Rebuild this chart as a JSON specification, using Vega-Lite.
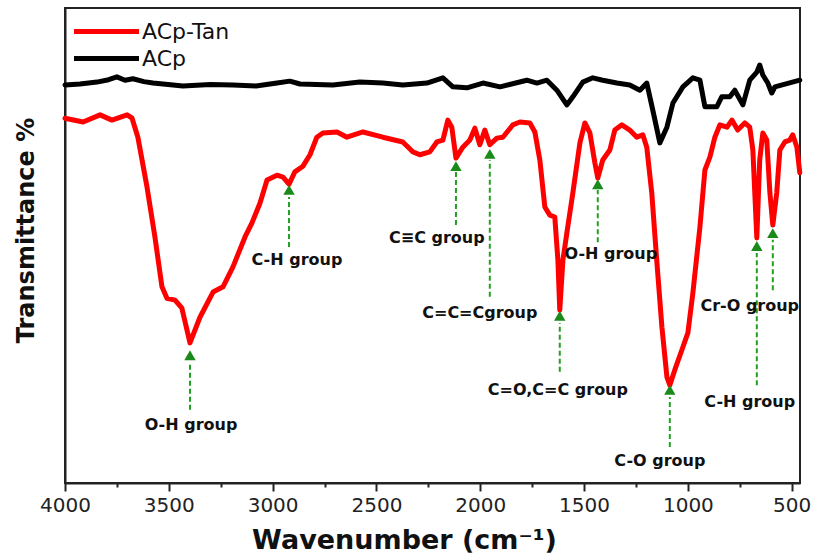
{
  "$schema": "https://vega.github.io/schema/vega-lite/v6.json",
  "width": 735,
  "height": 475,
  "autosize": "none",
  "padding": {"left": 65, "top": 8, "right": 19, "bottom": 76},
  "background": "white",
  "config": {
    "view": {"stroke": "#222", "strokeWidth": 2},
    "font": "DejaVu Sans"
  },
  "datasets": {
    "spec": [
      {"wn": 4000, "t": 76.8, "s": "ACp-Tan"},
      {"wn": 3913, "t": 76.0, "s": "ACp-Tan"},
      {"wn": 3831, "t": 77.5, "s": "ACp-Tan"},
      {"wn": 3774, "t": 76.4, "s": "ACp-Tan"},
      {"wn": 3701, "t": 77.5, "s": "ACp-Tan"},
      {"wn": 3677, "t": 76.8, "s": "ACp-Tan"},
      {"wn": 3649, "t": 72.8, "s": "ACp-Tan"},
      {"wn": 3605, "t": 62.3, "s": "ACp-Tan"},
      {"wn": 3567, "t": 51.8, "s": "ACp-Tan"},
      {"wn": 3533, "t": 41.3, "s": "ACp-Tan"},
      {"wn": 3509, "t": 38.9, "s": "ACp-Tan"},
      {"wn": 3470, "t": 38.5, "s": "ACp-Tan"},
      {"wn": 3437, "t": 36.8, "s": "ACp-Tan"},
      {"wn": 3398, "t": 29.5, "s": "ACp-Tan"},
      {"wn": 3350, "t": 34.9, "s": "ACp-Tan"},
      {"wn": 3287, "t": 40.2, "s": "ACp-Tan"},
      {"wn": 3239, "t": 41.3, "s": "ACp-Tan"},
      {"wn": 3191, "t": 45.5, "s": "ACp-Tan"},
      {"wn": 3133, "t": 51.8, "s": "ACp-Tan"},
      {"wn": 3100, "t": 54.7, "s": "ACp-Tan"},
      {"wn": 3061, "t": 58.9, "s": "ACp-Tan"},
      {"wn": 3027, "t": 63.8, "s": "ACp-Tan"},
      {"wn": 2979, "t": 64.8, "s": "ACp-Tan"},
      {"wn": 2950, "t": 64.4, "s": "ACp-Tan"},
      {"wn": 2921, "t": 62.9, "s": "ACp-Tan"},
      {"wn": 2893, "t": 65.5, "s": "ACp-Tan"},
      {"wn": 2854, "t": 66.7, "s": "ACp-Tan"},
      {"wn": 2820, "t": 69.1, "s": "ACp-Tan"},
      {"wn": 2787, "t": 72.8, "s": "ACp-Tan"},
      {"wn": 2758, "t": 73.7, "s": "ACp-Tan"},
      {"wn": 2690, "t": 73.9, "s": "ACp-Tan"},
      {"wn": 2642, "t": 72.8, "s": "ACp-Tan"},
      {"wn": 2565, "t": 73.9, "s": "ACp-Tan"},
      {"wn": 2469, "t": 72.8, "s": "ACp-Tan"},
      {"wn": 2373, "t": 71.8, "s": "ACp-Tan"},
      {"wn": 2324, "t": 69.7, "s": "ACp-Tan"},
      {"wn": 2291, "t": 69.1, "s": "ACp-Tan"},
      {"wn": 2243, "t": 69.7, "s": "ACp-Tan"},
      {"wn": 2209, "t": 71.8, "s": "ACp-Tan"},
      {"wn": 2180, "t": 72.2, "s": "ACp-Tan"},
      {"wn": 2156, "t": 76.4, "s": "ACp-Tan"},
      {"wn": 2137, "t": 74.9, "s": "ACp-Tan"},
      {"wn": 2117, "t": 68.4, "s": "ACp-Tan"},
      {"wn": 2084, "t": 70.7, "s": "ACp-Tan"},
      {"wn": 2050, "t": 72.2, "s": "ACp-Tan"},
      {"wn": 2026, "t": 74.7, "s": "ACp-Tan"},
      {"wn": 2002, "t": 71.2, "s": "ACp-Tan"},
      {"wn": 1978, "t": 74.3, "s": "ACp-Tan"},
      {"wn": 1954, "t": 71.2, "s": "ACp-Tan"},
      {"wn": 1920, "t": 72.6, "s": "ACp-Tan"},
      {"wn": 1891, "t": 72.8, "s": "ACp-Tan"},
      {"wn": 1843, "t": 75.4, "s": "ACp-Tan"},
      {"wn": 1809, "t": 76.0, "s": "ACp-Tan"},
      {"wn": 1761, "t": 75.8, "s": "ACp-Tan"},
      {"wn": 1737, "t": 73.9, "s": "ACp-Tan"},
      {"wn": 1713, "t": 68.0, "s": "ACp-Tan"},
      {"wn": 1689, "t": 58.1, "s": "ACp-Tan"},
      {"wn": 1665, "t": 56.4, "s": "ACp-Tan"},
      {"wn": 1641, "t": 56.0, "s": "ACp-Tan"},
      {"wn": 1626, "t": 46.9, "s": "ACp-Tan"},
      {"wn": 1617, "t": 36.4, "s": "ACp-Tan"},
      {"wn": 1602, "t": 46.9, "s": "ACp-Tan"},
      {"wn": 1583, "t": 52.6, "s": "ACp-Tan"},
      {"wn": 1554, "t": 61.1, "s": "ACp-Tan"},
      {"wn": 1520, "t": 71.6, "s": "ACp-Tan"},
      {"wn": 1496, "t": 75.8, "s": "ACp-Tan"},
      {"wn": 1472, "t": 73.7, "s": "ACp-Tan"},
      {"wn": 1448, "t": 67.4, "s": "ACp-Tan"},
      {"wn": 1434, "t": 64.2, "s": "ACp-Tan"},
      {"wn": 1410, "t": 68.0, "s": "ACp-Tan"},
      {"wn": 1376, "t": 70.1, "s": "ACp-Tan"},
      {"wn": 1352, "t": 74.3, "s": "ACp-Tan"},
      {"wn": 1318, "t": 75.4, "s": "ACp-Tan"},
      {"wn": 1280, "t": 74.3, "s": "ACp-Tan"},
      {"wn": 1246, "t": 72.8, "s": "ACp-Tan"},
      {"wn": 1217, "t": 73.3, "s": "ACp-Tan"},
      {"wn": 1198, "t": 70.7, "s": "ACp-Tan"},
      {"wn": 1174, "t": 61.1, "s": "ACp-Tan"},
      {"wn": 1150, "t": 46.9, "s": "ACp-Tan"},
      {"wn": 1125, "t": 32.8, "s": "ACp-Tan"},
      {"wn": 1101, "t": 22.3, "s": "ACp-Tan"},
      {"wn": 1087, "t": 20.6, "s": "ACp-Tan"},
      {"wn": 1063, "t": 23.8, "s": "ACp-Tan"},
      {"wn": 1029, "t": 28.0, "s": "ACp-Tan"},
      {"wn": 1000, "t": 31.6, "s": "ACp-Tan"},
      {"wn": 976, "t": 40.0, "s": "ACp-Tan"},
      {"wn": 942, "t": 53.9, "s": "ACp-Tan"},
      {"wn": 918, "t": 65.9, "s": "ACp-Tan"},
      {"wn": 894, "t": 68.6, "s": "ACp-Tan"},
      {"wn": 870, "t": 72.8, "s": "ACp-Tan"},
      {"wn": 846, "t": 75.4, "s": "ACp-Tan"},
      {"wn": 812, "t": 74.9, "s": "ACp-Tan"},
      {"wn": 788, "t": 76.4, "s": "ACp-Tan"},
      {"wn": 760, "t": 74.3, "s": "ACp-Tan"},
      {"wn": 726, "t": 75.8, "s": "ACp-Tan"},
      {"wn": 702, "t": 74.9, "s": "ACp-Tan"},
      {"wn": 687, "t": 70.1, "s": "ACp-Tan"},
      {"wn": 668, "t": 51.6, "s": "ACp-Tan"},
      {"wn": 654, "t": 68.0, "s": "ACp-Tan"},
      {"wn": 639, "t": 73.7, "s": "ACp-Tan"},
      {"wn": 620, "t": 72.2, "s": "ACp-Tan"},
      {"wn": 605, "t": 61.1, "s": "ACp-Tan"},
      {"wn": 591, "t": 54.3, "s": "ACp-Tan"},
      {"wn": 572, "t": 61.1, "s": "ACp-Tan"},
      {"wn": 557, "t": 70.1, "s": "ACp-Tan"},
      {"wn": 533, "t": 71.8, "s": "ACp-Tan"},
      {"wn": 509, "t": 72.2, "s": "ACp-Tan"},
      {"wn": 495, "t": 73.3, "s": "ACp-Tan"},
      {"wn": 475, "t": 70.7, "s": "ACp-Tan"},
      {"wn": 461, "t": 65.3, "s": "ACp-Tan"},
      {"wn": 4000, "t": 83.8, "s": "ACp"},
      {"wn": 3928, "t": 84.0, "s": "ACp"},
      {"wn": 3846, "t": 84.4, "s": "ACp"},
      {"wn": 3790, "t": 84.9, "s": "ACp"},
      {"wn": 3750, "t": 85.5, "s": "ACp"},
      {"wn": 3711, "t": 84.8, "s": "ACp"},
      {"wn": 3673, "t": 85.1, "s": "ACp"},
      {"wn": 3620, "t": 84.5, "s": "ACp"},
      {"wn": 3576, "t": 84.2, "s": "ACp"},
      {"wn": 3432, "t": 83.6, "s": "ACp"},
      {"wn": 3300, "t": 83.9, "s": "ACp"},
      {"wn": 3191, "t": 83.8, "s": "ACp"},
      {"wn": 3080, "t": 83.6, "s": "ACp"},
      {"wn": 2979, "t": 84.2, "s": "ACp"},
      {"wn": 2917, "t": 84.6, "s": "ACp"},
      {"wn": 2868, "t": 84.0, "s": "ACp"},
      {"wn": 2710, "t": 83.8, "s": "ACp"},
      {"wn": 2580, "t": 84.4, "s": "ACp"},
      {"wn": 2469, "t": 84.2, "s": "ACp"},
      {"wn": 2373, "t": 83.8, "s": "ACp"},
      {"wn": 2257, "t": 84.2, "s": "ACp"},
      {"wn": 2180, "t": 85.3, "s": "ACp"},
      {"wn": 2132, "t": 83.4, "s": "ACp"},
      {"wn": 2064, "t": 83.2, "s": "ACp"},
      {"wn": 1987, "t": 84.2, "s": "ACp"},
      {"wn": 1905, "t": 83.4, "s": "ACp"},
      {"wn": 1776, "t": 84.8, "s": "ACp"},
      {"wn": 1727, "t": 84.2, "s": "ACp"},
      {"wn": 1679, "t": 84.8, "s": "ACp"},
      {"wn": 1631, "t": 82.7, "s": "ACp"},
      {"wn": 1583, "t": 79.6, "s": "ACp"},
      {"wn": 1554, "t": 81.3, "s": "ACp"},
      {"wn": 1506, "t": 84.4, "s": "ACp"},
      {"wn": 1458, "t": 85.3, "s": "ACp"},
      {"wn": 1410, "t": 84.8, "s": "ACp"},
      {"wn": 1342, "t": 84.2, "s": "ACp"},
      {"wn": 1280, "t": 83.8, "s": "ACp"},
      {"wn": 1231, "t": 82.7, "s": "ACp"},
      {"wn": 1198, "t": 84.2, "s": "ACp"},
      {"wn": 1169, "t": 78.5, "s": "ACp"},
      {"wn": 1135, "t": 71.6, "s": "ACp"},
      {"wn": 1101, "t": 74.9, "s": "ACp"},
      {"wn": 1072, "t": 80.0, "s": "ACp"},
      {"wn": 1024, "t": 83.4, "s": "ACp"},
      {"wn": 976, "t": 85.3, "s": "ACp"},
      {"wn": 942, "t": 84.8, "s": "ACp"},
      {"wn": 918, "t": 79.2, "s": "ACp"},
      {"wn": 861, "t": 79.2, "s": "ACp"},
      {"wn": 837, "t": 81.3, "s": "ACp"},
      {"wn": 798, "t": 81.3, "s": "ACp"},
      {"wn": 774, "t": 82.7, "s": "ACp"},
      {"wn": 735, "t": 79.6, "s": "ACp"},
      {"wn": 702, "t": 84.8, "s": "ACp"},
      {"wn": 668, "t": 86.5, "s": "ACp"},
      {"wn": 654, "t": 88.0, "s": "ACp"},
      {"wn": 639, "t": 85.9, "s": "ACp"},
      {"wn": 615, "t": 84.2, "s": "ACp"},
      {"wn": 596, "t": 82.1, "s": "ACp"},
      {"wn": 581, "t": 83.4, "s": "ACp"},
      {"wn": 461, "t": 84.8, "s": "ACp"}
    ],
    "arrows": [
      {"wn": 3398, "t": 15.4, "t2": 25.5, "tip": 26.9},
      {"wn": 2921, "t": 49.7, "t2": 60.2, "tip": 61.7},
      {"wn": 2117, "t": 54.3, "t2": 65.5, "tip": 66.7},
      {"wn": 1954, "t": 39.2, "t2": 68.0, "tip": 69.3},
      {"wn": 1434, "t": 50.7, "t2": 61.7, "tip": 62.9},
      {"wn": 1617, "t": 23.4, "t2": 33.7, "tip": 35.2},
      {"wn": 1087, "t": 7.6, "t2": 18.1, "tip": 19.6},
      {"wn": 591, "t": 40.6, "t2": 51.2, "tip": 52.6},
      {"wn": 668, "t": 20.6, "t2": 48.4, "tip": 49.9}
    ],
    "labels": [
      {"wn": 3393, "t": 12.2, "label": "O-H group"},
      {"wn": 2883, "t": 46.9, "label": "C-H group"},
      {"wn": 2209, "t": 51.6, "label": "C≡C group"},
      {"wn": 2002, "t": 35.8, "label": "C=C=Cgroup"},
      {"wn": 1371, "t": 48.2, "label": "O-H group"},
      {"wn": 1626, "t": 19.6, "label": "C=O,C=C group"},
      {"wn": 1135, "t": 4.6, "label": "C-O group"},
      {"wn": 702, "t": 37.3, "label": "Cr-O group"},
      {"wn": 702, "t": 17.1, "label": "C-H group"}
    ]
  },
  "layer": [
    {
      "data": {"name": "spec"},
      "mark": {"type": "line", "strokeWidth": 5, "strokeJoin": "round", "strokeCap": "round"},
      "encoding": {
        "x": {
          "field": "wn", "type": "quantitative", "title": "Wavenumber (cm⁻¹)",
          "scale": {"domain": [4000, 460], "nice": false, "zero": false},
          "axis": {
            "values": [4000, 3750, 3500, 3250, 3000, 2750, 2500, 2250, 2000, 1750, 1500, 1250, 1000, 750, 500],
            "labelExpr": "datum.value % 500 === 0 ? format(datum.value, 'd') : ''",
            "grid": false,
            "domainColor": "#222", "domainWidth": 2,
            "tickColor": "#222", "tickWidth": 2,
            "tickSize": {"condition": {"test": "datum.value % 500 === 0", "value": 8}, "value": 4},
            "labelFont": "DejaVu Sans", "labelFontSize": 20, "labelColor": "#222", "labelPadding": 4,
            "labelFlush": false, "labelOverlap": false,
            "titleFont": "DejaVu Sans", "titleFontSize": 27, "titleFontWeight": "bold", "titleColor": "#111",
            "titlePadding": 12, "titleX": 339, "titleAnchor": "middle"
          }
        },
        "y": {
          "field": "t", "type": "quantitative", "title": "Transmittance %",
          "scale": {"domain": [0, 100], "nice": false},
          "axis": {
            "ticks": false, "labels": false, "grid": false,
            "domainColor": "#222", "domainWidth": 2,
            "titleFont": "DejaVu Sans", "titleFontSize": 24, "titleFontWeight": "bold", "titleColor": "#111",
            "titlePadding": 27, "titleY": 222, "titleAnchor": "middle"
          }
        },
        "color": {
          "field": "s", "type": "nominal",
          "scale": {"domain": ["ACp-Tan", "ACp"], "range": ["#ff0000", "#000000"]},
          "legend": {
            "title": null, "orient": "none", "legendX": 26, "legendY": 8,
            "symbolType": "M-2.5,0H2.5", "symbolSize": 676, "symbolStrokeWidth": 5,
            "labelFont": "DejaVu Sans", "labelFontSize": 22, "labelColor": "#111",
            "labelOffset": 20, "rowPadding": 0
          }
        }
      }
    },
    {
      "data": {"name": "arrows"},
      "mark": {"type": "rule", "color": "#22a022", "strokeWidth": 2, "strokeDash": [5, 3]},
      "encoding": {
        "x": {"field": "wn", "type": "quantitative", "title": "Wavenumber (cm⁻¹)"},
        "y": {"field": "t", "type": "quantitative", "title": "Transmittance %"},
        "y2": {"field": "t2"}
      }
    },
    {
      "data": {"name": "arrows"},
      "mark": {"type": "point", "shape": "triangle-up", "filled": true, "size": 130, "color": "#1a8a1a", "opacity": 1},
      "encoding": {
        "x": {"field": "wn", "type": "quantitative", "title": "Wavenumber (cm⁻¹)"},
        "y": {"field": "tip", "type": "quantitative", "title": "Transmittance %"}
      }
    },
    {
      "data": {"name": "labels"},
      "mark": {"type": "text", "font": "DejaVu Sans", "fontSize": 16, "fontWeight": "bold", "color": "#111", "align": "center", "baseline": "middle"},
      "encoding": {
        "x": {"field": "wn", "type": "quantitative", "title": "Wavenumber (cm⁻¹)"},
        "y": {"field": "t", "type": "quantitative", "title": "Transmittance %"},
        "text": {"field": "label"}
      }
    }
  ]
}
